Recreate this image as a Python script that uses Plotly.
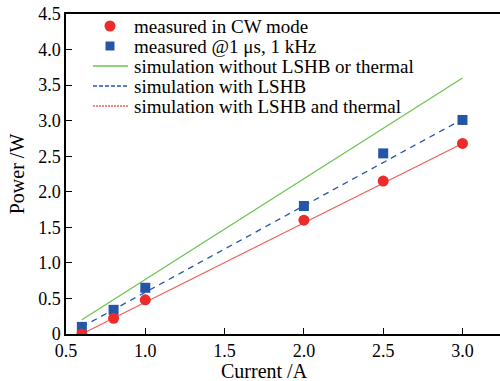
import plotly.graph_objects as go

current = [0.6, 0.8, 1.0, 2.0, 2.5, 3.0]
cw_power = [0.0, 0.22, 0.48, 1.60, 2.15, 2.68]
pulsed_power = [0.10, 0.34, 0.65, 1.80, 2.54, 3.01]

sim_current = [0.6, 3.0]
sim_no_lshb = [0.20, 3.60]
sim_lshb = [0.10, 3.02]
sim_lshb_thermal = [0.0, 2.68]

x_ticks = [0.5, 1.0, 1.5, 2.0, 2.5, 3.0]
x_labels = ["0.5", "1.0", "1.5", "2.0", "2.5", "3.0"]
y_ticks = [0, 0.5, 1.0, 1.5, 2.0, 2.5, 3.0, 3.5, 4.0, 4.5]
y_labels = ["0", "0.5", "1.0", "1.5", "2.0", "2.5", "3.0", "3.5", "4.0", "4.5"]

legend_labels = ["measured in CW mode", "measured @1 \u03bcs, 1 kHz",
                 "simulation without LSHB or thermal", "simulation with LSHB",
                 "simulation with LSHB and thermal"]

FONT = "Liberation Serif, Times New Roman, serif"
RED = "#EE2B2B"
REDLINE = "#F05A5A"
BLUE = "#2456A8"
GREEN = "#6CC552"

# pixel geometry helpers (plot area: x 66..500, y 14..334)
XPX = 158.6   # px per unit current
YPX = 71.11   # px per unit power
def px2x(px):
    return 0.5 + (px - 66) / XPX
def px2y(py):
    return (334 - py) / YPX

fig = go.Figure()
fig.add_trace(go.Scatter(x=sim_current, y=sim_no_lshb, mode="lines",
                         line=dict(color=GREEN, width=1.3)))
fig.add_trace(go.Scatter(x=sim_current, y=sim_lshb, mode="lines",
                         line=dict(color=BLUE, width=1.3, dash="6px,5px")))
fig.add_trace(go.Scatter(x=sim_current, y=sim_lshb_thermal, mode="lines",
                         line=dict(color=REDLINE, width=1.1)))
fig.add_trace(go.Scatter(x=current, y=pulsed_power, mode="markers",
                         marker=dict(symbol="square", size=10, color=BLUE)))
fig.add_trace(go.Scatter(x=current, y=cw_power, mode="markers",
                         marker=dict(symbol="circle", size=11, color=RED)))

# legend drawn manually to match the reference layout
styles = [
    ("marker", "circle", RED, None),
    ("marker", "square", BLUE, None),
    ("line", None, GREEN, "solid"),
    ("line", None, BLUE, "4px,2px"),
    ("line", None, REDLINE, "2px,1px"),
]
row_y = [26, 46, 66, 86, 106]
for (kind, sym, col, dash), label, yy in zip(styles, legend_labels, row_y):
    if kind == "marker":
        fig.add_trace(go.Scatter(x=[px2x(110)], y=[px2y(yy)], mode="markers", cliponaxis=False,
                                 marker=dict(symbol=sym, size=11 if sym == "circle" else 9, color=col)))
    else:
        fig.add_shape(type="line", xref="x", yref="y",
                      x0=px2x(93), x1=px2x(128), y0=px2y(yy), y1=px2y(yy),
                      line=dict(color=col, width=1.5, dash=dash))
    fig.add_annotation(x=px2x(132), y=px2y(yy), xref="x", yref="y",
                       text=label, showarrow=False, xanchor="left", yanchor="middle",
                       font=dict(family=FONT, size=19, color="black"))

fig.add_annotation(x=(264 - 66) / 434.0, y=-(371 - 334) / 320.0, xref="paper", yref="paper",
                   text="Current /A", showarrow=False, xanchor="center", yanchor="middle",
                   font=dict(family=FONT, size=20, color="black"))

fig.update_layout(
    width=500, height=381,
    margin=dict(l=66, r=0, t=14, b=47),
    paper_bgcolor="white", plot_bgcolor="white",
    font=dict(family=FONT, size=18, color="black"),
    showlegend=False,
)

fig.update_xaxes(range=[0.5, px2x(500)], tickvals=x_ticks, ticktext=x_labels,
                 ticks="inside", ticklen=6, tickwidth=1, tickcolor="black",
                 showline=True, linecolor="black", linewidth=1.5, mirror=True,
                 showgrid=False, zeroline=False, tickfont=dict(family=FONT, size=18))
fig.update_yaxes(range=[0, 4.5], tickvals=y_ticks, ticktext=y_labels,
                 ticks="inside", ticklen=6, tickwidth=1, tickcolor="black",
                 showline=True, linecolor="black", linewidth=1.5,
                 showgrid=False, zeroline=False, tickfont=dict(family=FONT, size=18),
                 title=dict(text="Power /W", font=dict(family=FONT, size=20), standoff=8))

fig.write_html("out.html")
